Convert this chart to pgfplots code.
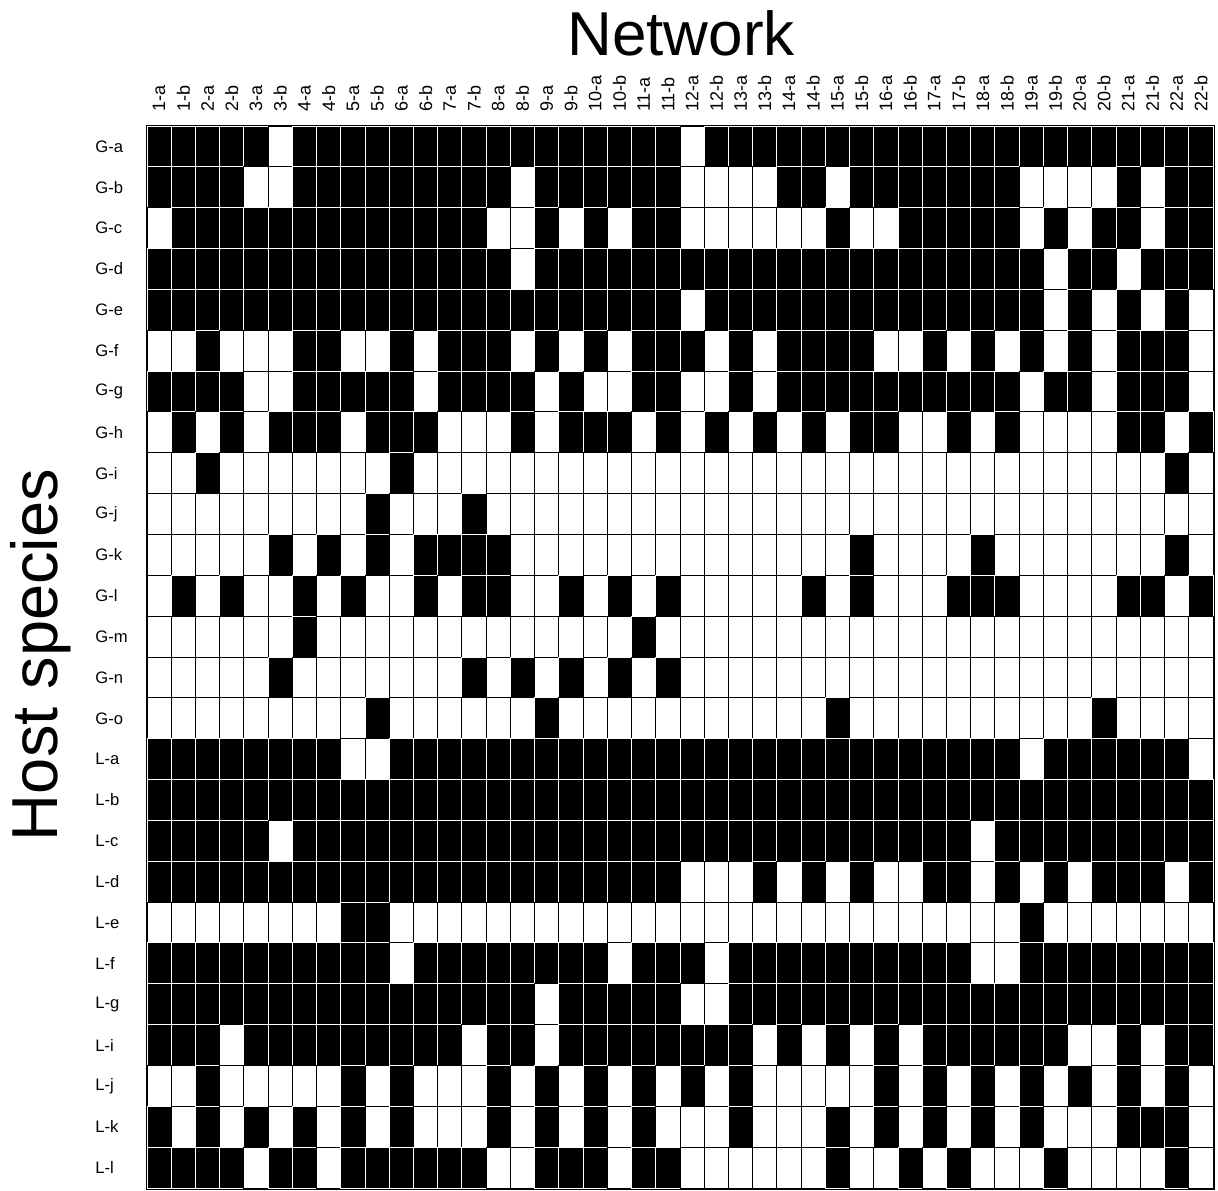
\documentclass[border=0pt]{standalone}
\usepackage{pgfplots}
\pgfplotsset{compat=1.18}
\usepackage{pgfplotstable}
\usepackage{fontspec}
\setmainfont{Liberation Sans}
\pgfdeclareplotmark{cell}{\pgfpathrectangle{\pgfqpoint{-6.0568pt}{-10.2115pt}}{\pgfqpoint{12.1136pt}{20.4231pt}}\pgfusepathqfillstroke}

% rows: G-a ... G-o, L-a ... L-l ; columns: 1-a ... 22-b ; 1 = black (present)
\pgfplotstableread{
c1 c2 c3 c4 c5 c6 c7 c8 c9 c10 c11 c12 c13 c14 c15 c16 c17 c18 c19 c20 c21 c22 c23 c24 c25 c26 c27 c28 c29 c30 c31 c32 c33 c34 c35 c36 c37 c38 c39 c40 c41 c42 c43 c44
1 1 1 1 1 0 1 1 1 1 1 1 1 1 1 1 1 1 1 1 1 1 0 1 1 1 1 1 1 1 1 1 1 1 1 1 1 1 1 1 1 1 1 1
1 1 1 1 0 0 1 1 1 1 1 1 1 1 1 0 1 1 1 1 1 1 0 0 0 0 1 1 0 1 1 1 1 1 1 1 0 0 0 0 1 0 1 1
0 1 1 1 1 1 1 1 1 1 1 1 1 1 0 0 1 0 1 0 1 1 0 0 0 0 0 0 1 0 0 1 1 1 1 1 0 1 0 1 1 0 1 1
1 1 1 1 1 1 1 1 1 1 1 1 1 1 1 0 1 1 1 1 1 1 1 1 1 1 1 1 1 1 1 1 1 1 1 1 1 0 1 1 0 1 1 1
1 1 1 1 1 1 1 1 1 1 1 1 1 1 1 1 1 1 1 1 1 1 0 1 1 1 1 1 1 1 1 1 1 1 1 1 1 0 1 0 1 0 1 0
0 0 1 0 0 0 1 1 0 0 1 0 1 1 1 0 1 0 1 0 1 1 1 0 1 0 1 1 1 1 0 0 1 0 1 0 1 0 1 0 1 1 1 0
1 1 1 1 0 0 1 1 1 1 1 0 1 1 1 1 0 1 0 0 1 1 0 0 1 0 1 1 1 1 1 1 1 1 1 1 0 1 1 0 1 1 1 0
0 1 0 1 0 1 1 1 0 1 1 1 0 0 0 1 0 1 1 1 0 1 0 1 0 1 0 1 0 1 1 0 0 1 0 1 0 0 0 0 1 1 0 1
0 0 1 0 0 0 0 0 0 0 1 0 0 0 0 0 0 0 0 0 0 0 0 0 0 0 0 0 0 0 0 0 0 0 0 0 0 0 0 0 0 0 1 0
0 0 0 0 0 0 0 0 0 1 0 0 0 1 0 0 0 0 0 0 0 0 0 0 0 0 0 0 0 0 0 0 0 0 0 0 0 0 0 0 0 0 0 0
0 0 0 0 0 1 0 1 0 1 0 1 1 1 1 0 0 0 0 0 0 0 0 0 0 0 0 0 0 1 0 0 0 0 1 0 0 0 0 0 0 0 1 0
0 1 0 1 0 0 1 0 1 0 0 1 0 1 1 0 0 1 0 1 0 1 0 0 0 0 0 1 0 1 0 0 0 1 1 1 0 0 0 0 1 1 0 1
0 0 0 0 0 0 1 0 0 0 0 0 0 0 0 0 0 0 0 0 1 0 0 0 0 0 0 0 0 0 0 0 0 0 0 0 0 0 0 0 0 0 0 0
0 0 0 0 0 1 0 0 0 0 0 0 0 1 0 1 0 1 0 1 0 1 0 0 0 0 0 0 0 0 0 0 0 0 0 0 0 0 0 0 0 0 0 0
0 0 0 0 0 0 0 0 0 1 0 0 0 0 0 0 1 0 0 0 0 0 0 0 0 0 0 0 1 0 0 0 0 0 0 0 0 0 0 1 0 0 0 0
1 1 1 1 1 1 1 1 0 0 1 1 1 1 1 1 1 1 1 1 1 1 1 1 1 1 1 1 1 1 1 1 1 1 1 1 0 1 1 1 1 1 1 0
1 1 1 1 1 1 1 1 1 1 1 1 1 1 1 1 1 1 1 1 1 1 1 1 1 1 1 1 1 1 1 1 1 1 1 1 1 1 1 1 1 1 1 1
1 1 1 1 1 0 1 1 1 1 1 1 1 1 1 1 1 1 1 1 1 1 1 1 1 1 1 1 1 1 1 1 1 1 0 1 1 1 1 1 1 1 1 1
1 1 1 1 1 1 1 1 1 1 1 1 1 1 1 1 1 1 1 1 1 1 0 0 0 1 0 1 0 1 0 0 1 1 0 1 0 1 0 1 1 1 0 1
0 0 0 0 0 0 0 0 1 1 0 0 0 0 0 0 0 0 0 0 0 0 0 0 0 0 0 0 0 0 0 0 0 0 0 0 1 0 0 0 0 0 0 0
1 1 1 1 1 1 1 1 1 1 0 1 1 1 1 1 1 1 1 0 1 1 1 0 1 1 1 1 1 1 1 1 1 1 0 0 1 1 1 1 1 1 1 1
1 1 1 1 1 1 1 1 1 1 1 1 1 1 1 1 0 1 1 1 1 1 0 0 1 1 1 1 1 1 1 1 1 1 1 1 1 1 1 1 1 1 1 1
1 1 1 0 1 1 1 1 1 1 1 1 1 0 1 1 0 1 1 1 1 1 1 1 1 0 1 0 1 0 1 0 1 1 1 1 1 1 0 0 1 0 1 1
0 0 1 0 0 0 0 0 1 0 1 0 0 0 1 0 1 0 1 0 1 0 1 0 1 0 0 0 0 0 1 0 1 0 1 0 1 0 1 0 1 0 1 0
1 0 1 0 1 0 1 0 1 0 1 0 0 0 1 0 1 0 1 0 1 0 0 0 1 0 0 0 1 0 1 0 1 0 1 0 1 0 0 0 1 1 1 0
1 1 1 1 0 1 1 0 1 1 1 1 1 1 0 0 1 1 1 0 1 1 0 0 0 0 0 0 1 0 0 1 0 1 0 0 0 1 0 0 0 0 1 0
}\datatable

\begin{document}
\begin{tikzpicture}
\useasboundingbox (-73.5pt,-1pt) rectangle (535.5pt,594pt);
\begin{axis}[
  at={(0pt,0pt)}, anchor=south west,
  scale only axis, width=533pt, height=531pt,
  xmin=0.5, xmax=44.5, ymin=0.5, ymax=26.5, y dir=reverse,
  axis on top, axis line style={line width=1.5pt},
  xtick={1,...,44},
  xticklabels={1-a,1-b,2-a,2-b,3-a,3-b,4-a,4-b,5-a,5-b,6-a,6-b,7-a,7-b,8-a,8-b,9-a,9-b,10-a,10-b,11-a,11-b,12-a,12-b,13-a,13-b,14-a,14-b,15-a,15-b,16-a,16-b,17-a,17-b,18-a,18-b,19-a,19-b,20-a,20-b,21-a,21-b,22-a,22-b},
  ytick={1,...,26},
  yticklabels={G-a,G-b,G-c,G-d,G-e,G-f,G-g,G-h,G-i,G-j,G-k,G-l,G-m,G-n,G-o,L-a,L-b,L-c,L-d,L-e,L-f,L-g,L-i,L-j,L-k,L-l},
  xticklabel pos=upper,
  major tick length=0pt,
  xticklabel style={rotate=90, anchor=west, font=\fontsize{9}{11}\selectfont},
  yticklabel style={anchor=west, xshift=-29.3pt, font=\fontsize{8.3}{10}\selectfont},
  xticklabel shift=3.5pt,
]
\pgfplotsinvokeforeach{1,...,44}{
  \addplot[scatter, only marks, mark=cell, line width=0.5pt,
    point meta=explicit symbolic,
    scatter/classes={0={draw=black, fill=white}, 1={draw=white, fill=black}}]
    table[x expr=#1, y expr=\coordindex+1, meta=c#1] {\datatable};
}
\end{axis}
\node[font=\fontsize{31}{37}\selectfont, anchor=base] at (267pt,566pt) {Network};
\node[font=\fontsize{32.5}{38}\selectfont, anchor=base, rotate=90] at (-44.5pt,266.5pt) {Host species};
\end{tikzpicture}
\end{document}
